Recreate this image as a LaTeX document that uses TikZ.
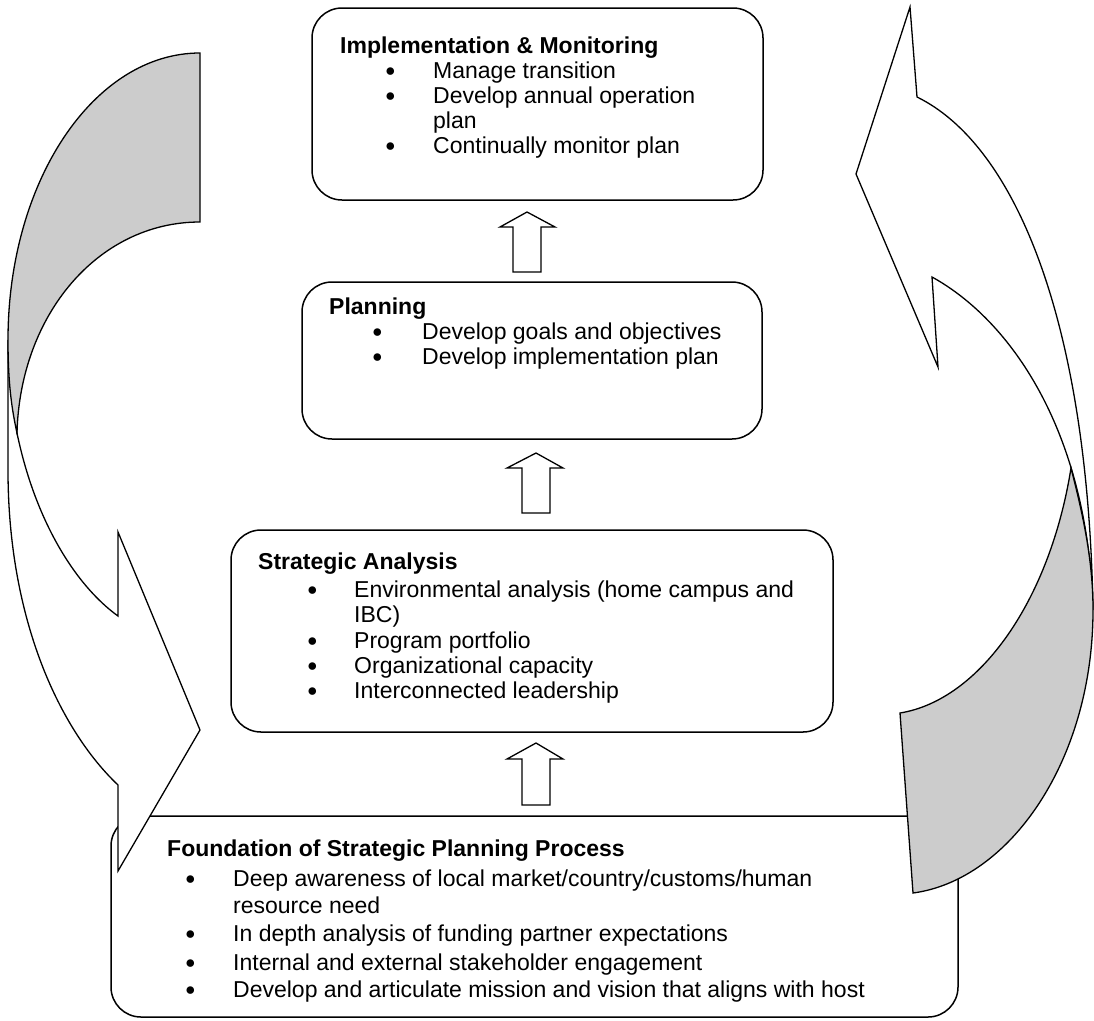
\documentclass[tikz,border=0pt]{standalone}
\usepackage{fontspec}
\setmainfont{Liberation Sans}
\definecolor{backgrey}{RGB}{204,204,204}
\begin{document}
\begin{tikzpicture}[x=1pt,y=-1pt,
  box/.style={draw, line width=1.5pt, rounded corners=30pt, fill=white, inner sep=0pt},
  txt/.style={anchor=base west, inner sep=0pt, font=\fontsize{23}{27}\selectfont},
  bul/.style={anchor=base west, inner sep=0pt, font=\fontsize{17.5}{18}\selectfont},
  ttl/.style={anchor=base west, inner sep=0pt, font=\fontsize{23}{27}\selectfont\bfseries},
  blockarrow/.style={draw, line width=1.3pt, fill=white, line join=miter},
  front/.style={draw, line width=1.3pt, fill=white, line join=miter},
  back/.style={draw, line width=1.3pt, fill=backgrey, line join=miter}]
\useasboundingbox (0,0) rectangle (1094,1020);

% boxes
\node[box, minimum width=451pt, minimum height=192pt] (impl) at (537.5,104) {};
\node[box, minimum width=460pt, minimum height=157pt] (plan) at (532,360.5) {};
\node[box, minimum width=602pt, minimum height=202pt] (strat) at (532,631) {};
\node[box, minimum width=847pt, minimum height=201pt] (found) at (534.5,916.5) {};

% block arrows
\draw[blockarrow] (513,272) -- (513,227) -- (500,227) -- (527,212) -- (555,227) -- (541,227) -- (541,272) -- cycle;
\draw[blockarrow] (522,513) -- (522,468) -- (507,468) -- (536,453) -- (563,468) -- (550,468) -- (550,513) -- cycle;
\draw[blockarrow] (522,805) -- (522,759) -- (507,759) -- (536,743) -- (563,759) -- (550,759) -- (550,805) -- cycle;

% left curved arrow
\draw[front] (8,340) -- (8,470) .. controls (8,620) and (60,730) .. (118,785) -- (118,871) -- (200,730) -- (118,532) -- (118,616) .. controls (75,585) and (35,520) .. (17,433) -- cycle;
\draw[back] (200,53) .. controls (94,53) and (8,181) .. (8,340) .. controls (8,385) and (12,410) .. (17,433) .. controls (20,315) and (98,222) .. (200,222) -- cycle;

% right curved arrow
\draw[front] (910,7) -- (917,97) .. controls (1015,145) and (1088,320) .. (1093,610) .. controls (1088,430) and (1010,320) .. (932,277) -- (938,367) -- (856,174) -- cycle;
\draw[back] (1071,468) .. controls (1083,515) and (1093,560) .. (1093,610) .. controls (1093,760) and (1010,880) .. (913,893) -- (900,713) .. controls (980,700) and (1050,600) .. (1071,468) -- cycle;

% implementation text
\node[ttl] (implT) at (340,53) {Implementation \& Monitoring};
\node[bul] (implB1) at (385,76) {●};
\node[txt] (implL1) at (433,78) {Manage transition};
\node[bul] (implB2) at (385,101) {●};
\node[txt] (implL2) at (433,103) {Develop annual operation};
\node[txt] (implL2b) at (433,128) {plan};
\node[bul] (implB3) at (385,151) {●};
\node[txt] (implL3) at (433,153) {Continually monitor plan};

% planning text
\node[ttl] (planT) at (329,314) {Planning};
\node[bul] (planB1) at (372,337) {●};
\node[txt] (planL1) at (422,339) {Develop goals and objectives};
\node[bul] (planB2) at (372,362) {●};
\node[txt] (planL2) at (422,364) {Develop implementation plan};

% strategic analysis text
\node[ttl] (stratT) at (258,569) {Strategic Analysis};
\node[bul] (stratB1) at (307,595) {●};
\node[txt] (stratL1) at (354,597) {Environmental analysis (home campus and};
\node[txt] (stratL1b) at (354,622) {IBC)};
\node[bul] (stratB2) at (307,646) {●};
\node[txt] (stratL2) at (354,648) {Program portfolio};
\node[bul] (stratB3) at (307,671) {●};
\node[txt] (stratL3) at (354,673) {Organizational capacity};
\node[bul] (stratB4) at (307,696) {●};
\node[txt] (stratL4) at (354,698) {Interconnected leadership};

% foundation text
\node[ttl] (foundT) at (167,856) {Foundation of Strategic Planning Process};
\node[bul] (foundB1) at (185,884) {●};
\node[txt] (foundL1) at (233,886) {Deep awareness of local market/country/customs/human};
\node[txt] (foundL1b) at (233,913) {resource need};
\node[bul] (foundB2) at (185,939) {●};
\node[txt] (foundL2) at (233,941) {In depth analysis of funding partner expectations};
\node[bul] (foundB3) at (185,968) {●};
\node[txt] (foundL3) at (233,970) {Internal and external stakeholder engagement};
\node[bul] (foundB4) at (185,995) {●};
\node[txt] (foundL4) at (233,997) {Develop and articulate mission and vision that aligns with host};
\end{tikzpicture}
\end{document}
